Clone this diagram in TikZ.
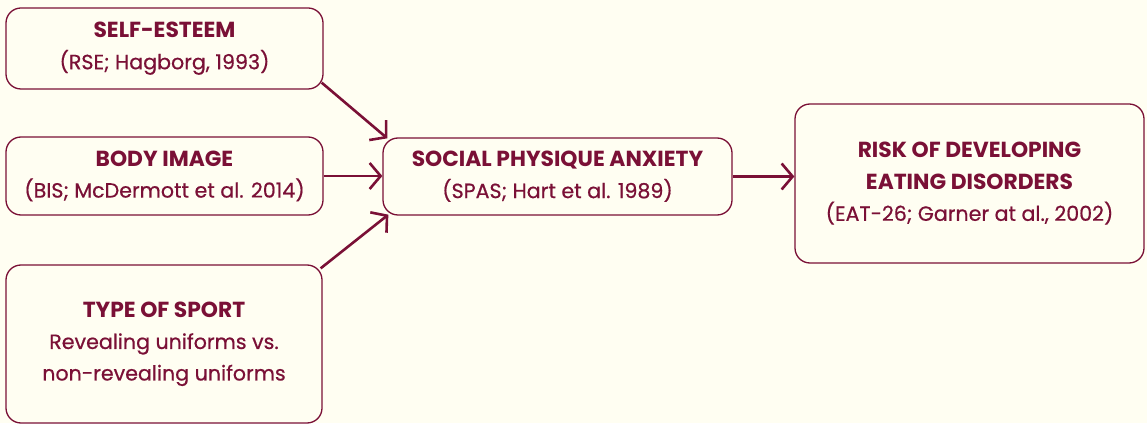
\documentclass[tikz,border=0pt]{standalone}
\usepackage{fontspec}
\setmainfont{Poppins}
\newfontfamily\medfont{Poppins}[FakeBold=0.6]
\usetikzlibrary{arrows.meta,calc}
\definecolor{maroon}{HTML}{7A1036}
\definecolor{cream}{HTML}{FFFEF2}
\newcommand{\hd}[1]{{\rmfamily\fontsize{21.8}{31.5}\selectfont\bfseries #1}}
\tikzset{
  box/.style={draw=maroon, line width=1.3pt, rounded corners=15pt, align=center,
    text=maroon, inner sep=0pt, font=\medfont\fontsize{20.6}{31.5}\selectfont},
  conn/.style={draw=maroon, line width=2.6pt, -{Straight Barb[length=11pt,width=26pt]}}
}
\begin{document}
\begin{tikzpicture}[x=1pt,y=1pt]
\fill[cream] (0,0) rectangle (1147,423);
\useasboundingbox (0,0) rectangle (1147,423);
\node[box, minimum width=317pt, minimum height=81pt] (se) at (164.5,374.5)
  {\hd{SELF-ESTEEM}\\(RSE; Hagborg, 1993)};
\node[box, minimum width=317pt, minimum height=78pt] (bi) at (164.5,247)
  {\hd{BODY IMAGE}\\(BIS; McDermott et al. 2014)};
\node[box, minimum width=316pt, minimum height=158pt] (ts) at (164,79)
  {\hd{TYPE OF SPORT}\\Revealing uniforms vs.\\non-revealing uniforms};
\node[box, minimum width=349pt, minimum height=77pt] (spa) at (557.5,246.5)
  {\hd{SOCIAL PHYSIQUE ANXIETY}\\(SPAS; Hart et al. 1989)};
\node[box, minimum width=349pt, minimum height=159pt] (risk) at (969.5,239.5)
  {\hd{RISK OF DEVELOPING}\\\hd{EATING DISORDERS}\\(EAT-26; Garner at al., 2002)};
\draw[conn] ($(se.south east)+(-2,7)$) -- ($(spa.north west)+(5,-1)$);
\draw[conn] (bi.east) -- (bi.east -| spa.west);
\draw[conn] ($(ts.north east)+(-2,-4)$) -- ($(spa.south west)+(6,1)$);
\draw[conn] (spa.east) -- (spa.east -| risk.west);
\end{tikzpicture}
\end{document}
